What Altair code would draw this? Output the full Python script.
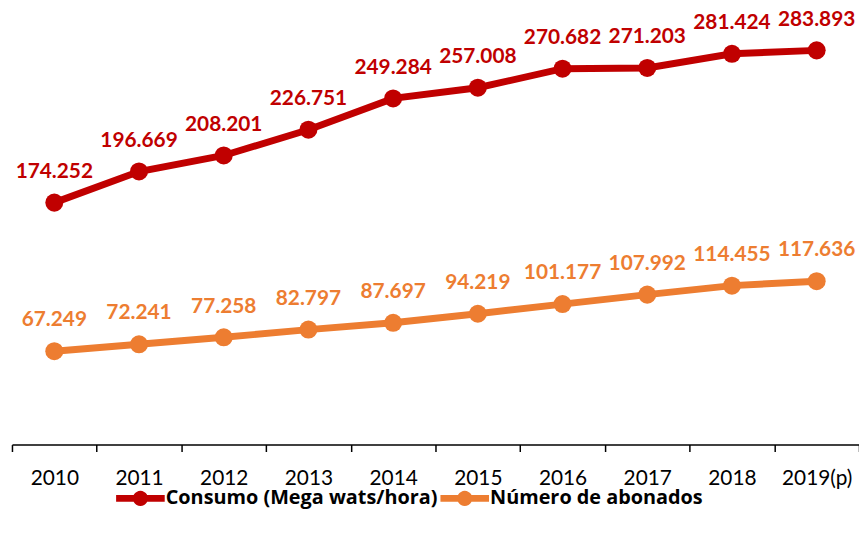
import altair as alt
import pandas as pd
import math

years = ["2010", "2011", "2012", "2013", "2014", "2015", "2016", "2017", "2018", "2019(p)"]
consumo = [174.252, 196.669, 208.201, 226.751, 249.284, 257.008, 270.682, 271.203, 281.424, 283.893]
abonados = [67.249, 72.241, 77.258, 82.797, 87.697, 94.219, 101.177, 107.992, 114.455, 117.636]
series_names = ["Consumo (Mega wats/hora)", "Número de abonados"]
series_colors = ["#C00000", "#ED7D31"]

rows = []
for y, v in zip(years, consumo):
    rows.append({"year": y, "value": v, "serie": series_names[0]})
for y, v in zip(years, abonados):
    rows.append({"year": y, "value": v, "serie": series_names[1]})
df = pd.DataFrame(rows)

FONT = "Lato"

x = alt.X("year:N", sort=years, title=None,
          scale=alt.Scale(type="band", paddingInner=0, paddingOuter=0),
          axis=alt.Axis(tickBand="extent", labelAngle=0, labelFont=FONT, labelFontSize=21,
                        labelFontWeight="normal",
                        labelColor="#000000", domainColor="#000000", domainWidth=1.5,
                        tickColor="#000000", tickWidth=1.5, tickSize=7, labelPadding=16,
                        grid=False))
y = alt.Y("value:Q", title=None, scale=alt.Scale(domain=[0, 300], nice=False, zero=True),
          axis=None)

# legend symbol: thick line with a circle in the middle (unit coordinates)
circ = " ".join(
    ("M" if i == 0 else "L") + f"{0.31*math.cos(2*math.pi*i/24):.3f},{0.31*math.sin(2*math.pi*i/24):.3f}"
    for i in range(24)
) + " Z"
legend_path = "M-1,-0.135 L1,-0.135 L1,0.135 L-1,0.135 Z " + circ

# one shared colour channel for every layer, so there is a single legend
color = alt.Color(
    "serie:N",
    scale=alt.Scale(domain=series_names, range=series_colors),
    legend=alt.Legend(title=None, orient="none", direction="horizontal",
                      legendX=105, legendY=449.5,
                      symbolType=legend_path, symbolSize=2401,
                      symbolStrokeWidth=0, symbolOpacity=1,
                      labelFont="Open Sans", labelFontSize=20, labelFontWeight="bold",
                      labelColor="#000000", labelLimit=500, labelOffset=1,
                      columnPadding=2),
)

base = alt.Chart(df)

lines = base.mark_line(strokeWidth=7).encode(x=x, y=y, color=color)

points = base.mark_circle(size=330, opacity=1).encode(x=x, y=y, color=color)

labels = base.mark_text(dy=-25, baseline="alphabetic", align="center", font=FONT,
                        fontSize=21, fontWeight="bold").encode(
    x=x, y=y,
    text=alt.Text("value:Q", format=".3f"),
    color=color,
)

chart = alt.layer(lines, points, labels).properties(
    width=854, height=420,
    autosize=alt.AutoSizeParams(type="none"),
    padding={"left": 4, "top": 18, "right": 0, "bottom": 90},
    background="#FFFFFF",
).configure_view(stroke=None)

chart.save("out.html", embed_options={"renderer": "svg", "actions": False})
